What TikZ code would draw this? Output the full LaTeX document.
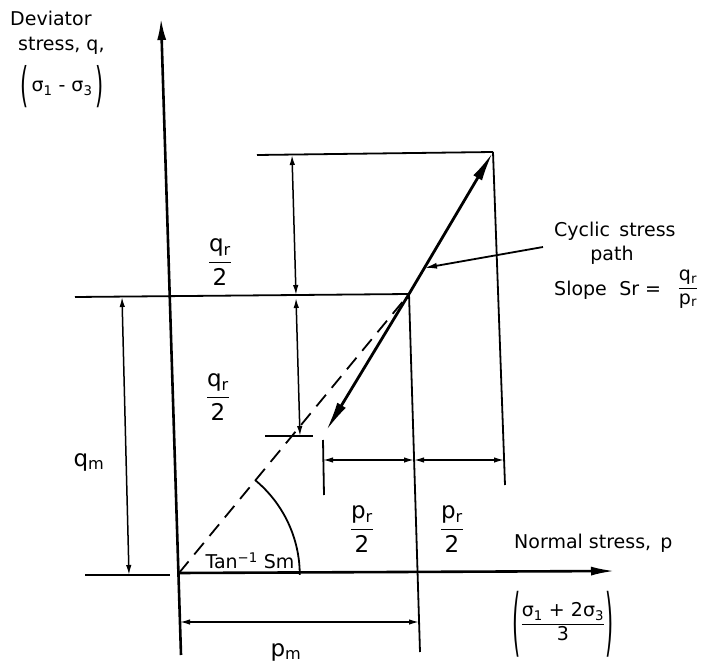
\documentclass[tikz,border=0pt]{standalone}
\usepackage{fontspec}
\usepackage{graphicx}
\setmainfont{DejaVu Sans}
\usetikzlibrary{arrows.meta}
\newcommand{\frc}[2]{$\displaystyle\frac{\hbox{#1}}{\hbox{#2}}$}
\newcommand{\tallpar}[2]{\vcenter{\hbox{\scalebox{1.1}[#1]{#2}}}}
\begin{document}
\begin{tikzpicture}[x=1pt,y=-1pt,
  axis/.style={line width=2.6pt},
  guide/.style={line width=1.8pt},
  spath/.style={line width=2.8pt},
  dimtip/.tip={Latex[length=10pt,width=5.5pt]},
  dim/.style={line width=1.5pt,dimtip-dimtip},
  lbl/.style={font=\fontsize{19}{22}\selectfont, inner sep=0pt},
  flbl/.style={font=\fontsize{23}{26}\selectfont, inner sep=0pt},
]
\useasboundingbox (0,0) rectangle (705,666);
% key points
\coordinate (O) at (179,573);
\coordinate (Ytop) at (161,18);
\coordinate (Ybot) at (181,655);
\coordinate (Xtip) at (615,571);
\coordinate (A) at (409,294);
\coordinate (T) at (493,152);
\coordinate (B) at (326,431);
\coordinate (HLl) at (75,297);
\coordinate (TLl) at (257,155);
\coordinate (Rbot) at (505,485);
\coordinate (Mbot) at (420,652);
\coordinate (QLl) at (85,575);
\coordinate (QLr) at (170,575);
% dimension ends
\coordinate (qmT) at (122,297);
\coordinate (qmB) at (129,575);
\coordinate (d1T) at (292,155);
\coordinate (d1B) at (296,295);
\coordinate (d2T) at (296,298);
\coordinate (d2B) at (300,436);
\coordinate (tkL) at (265,436);
\coordinate (tkR) at (313,436);
\coordinate (vtT) at (323,440);
\coordinate (vtB) at (324,495);
\coordinate (p1L) at (323,460);
\coordinate (p1R) at (414,460);
\coordinate (p2R) at (504,460);
\coordinate (pmL) at (180,622);
\coordinate (pmR) at (419,622);
\coordinate (cA) at (543,247);
\coordinate (cP) at (424,268);
\coordinate (arcS) at (255,480);

% axes
\draw[axis,-{Latex[length=22pt,width=9pt]}] (Ybot) -- (Ytop);
\draw[axis,-{Latex[length=24pt,width=9pt]}] (O) -- (Xtip);
\draw[guide] (QLl) -- (QLr);

% guide lines
\draw[guide] (HLl) -- (A);
\draw[guide] (TLl) -- (T);
\draw[guide] (T) -- (Rbot);
\draw[guide] (A) -- (Mbot);
\draw[guide] (tkL) -- (tkR);
\draw[guide] (vtT) -- (vtB);

% dashed line and angle arc
\draw[line width=1.8pt,dash pattern=on 15pt off 9pt] (O) -- (A);
\draw[line width=1.8pt] (arcS) arc[start angle=50.5, end angle=0, radius=123pt];

% stress path
\draw[spath,-{Latex[length=30pt,width=10pt]}] (A) -- (T);
\draw[spath,-{Latex[length=30pt,width=10pt]}] (A) -- (B);

% dimensions
\draw[dim] (qmT) -- (qmB);
\draw[dim] (d1T) -- (d1B);
\draw[dim] (d2T) -- (d2B);
\draw[dim] (p1L) -- (p1R);
\draw[dim] (p1R) -- (p2R);
\draw[dim] (pmL) -- (pmR);

% annotation arrow
\draw[line width=1.8pt,-{Latex[length=13pt,width=6pt]}] (cA) -- (cP);

% labels
\node[lbl,anchor=west] (t1) at (10,18) {Deviator};
\node[lbl,anchor=west] (t2) at (18,46) {stress, q,};
\node[lbl] (t3) at (62,87) {$\tallpar{2.5}{(}\hbox{\,σ\textsubscript{1} - σ\textsubscript{3}\,}\tallpar{2.5}{)}$};
\node[flbl] (f1) at (220,262) {\frc{q\textsubscript{r}}{2}};
\node[flbl] (f2) at (218,397) {\frc{q\textsubscript{r}}{2}};
\node[flbl] (qm) at (89,462) {q\textsubscript{m}};
\node[lbl] (tan) at (250,561) {Tan\textsuperscript{−1} Sm};
\node[flbl] (f3) at (362,529) {\frc{p\textsubscript{r}}{2}};
\node[flbl] (f4) at (452,529) {\frc{p\textsubscript{r}}{2}};
\node[lbl,anchor=west] (ns) at (514,543) {Normal stress,\, p};
\node[lbl] (nsf) at (563,624) {$\tallpar{3.9}{(}\displaystyle\frac{\hbox{σ\textsubscript{1} + 2σ\textsubscript{3}}}{\hbox{3}}\tallpar{3.9}{)}$};
\node[flbl] (pm) at (286,652) {p\textsubscript{m}};
\node[lbl,anchor=west] (cy) at (554,231) {Cyclic\, stress};
\node[lbl] (pa) at (612,255) {path};
\node[lbl,anchor=west] (sl) at (554,290) {Slope\,\, Sr =};
\node[lbl] (sf) at (688,289) {\frc{q\textsubscript{r}}{p\textsubscript{r}}};
\end{tikzpicture}
\end{document}
